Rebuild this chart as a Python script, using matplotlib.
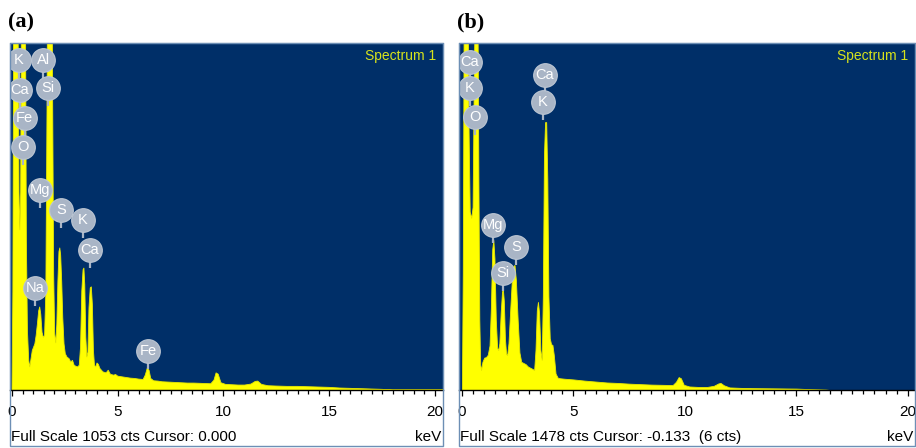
import matplotlib.pyplot as plt
import matplotlib.transforms as mtransforms
from matplotlib.patches import Rectangle
from matplotlib.ticker import MultipleLocator
import numpy as np

plt.rcParams['font.family'] = ['Liberation Sans', 'DejaVu Sans']

fig = plt.figure(figsize=(9.16, 4.48), dpi=100)

BG = '#002f68'
YEL = '#ffff00'
LBL = '#a9b5c6'

# Spectrum (a): energy / keV and counts
A_keV = [0.00, 0.04, 0.08, 0.12, 0.24, 0.29, 0.33, 0.37, 0.41, 0.45, 0.49, 0.60, 0.64, 0.68, 0.73, 0.79,
         0.84, 0.90, 0.96, 1.02, 1.08, 1.14, 1.20, 1.26, 1.31, 1.36, 1.42, 1.48, 1.54, 1.60, 1.66, 1.70,
         1.88, 1.92, 1.97, 2.02, 2.07, 2.12, 2.17, 2.22, 2.26, 2.30, 2.35, 2.40, 2.46, 2.52, 2.60, 2.70,
         2.78, 2.86, 2.94, 3.02, 3.10, 3.18, 3.24, 3.30, 3.36, 3.40, 3.44, 3.49, 3.54, 3.59, 3.64, 3.70,
         3.75, 3.80, 3.85, 3.90, 3.96, 4.02, 4.08, 4.16, 4.30, 4.45, 4.55, 4.65, 4.80, 4.90, 5.00, 5.20,
         5.40, 5.60, 5.80, 6.00, 6.20, 6.30, 6.40, 6.48, 6.56, 6.70, 6.90, 7.10, 7.40, 7.70, 8.00, 8.30,
         8.60, 9.00, 9.40, 9.55, 9.65, 9.75, 9.88, 10.10, 10.40, 10.70, 11.00, 11.30, 11.50, 11.62, 11.80,
         12.10, 12.50, 13.00, 13.50, 14.00, 14.50, 15.00, 15.50, 16.00, 16.50, 17.00, 17.50, 18.00, 20.40]
A_cts = [0, 300, 1200, 1500, 1500, 1100, 600, 486, 600, 1200, 1500, 1500, 1100, 450, 180, 90,
         70, 95, 120, 130, 140, 165, 200, 240, 252, 230, 175, 160, 165, 300, 900, 1500,
         1500, 900, 350, 170, 143, 200, 330, 420, 431, 410, 330, 220, 140, 110, 100, 95,
         85, 90, 75, 72, 70, 75, 130, 300, 365, 370, 320, 160, 100, 115, 250, 310,
         313, 260, 120, 75, 70, 82, 78, 65, 55, 52, 60, 48, 45, 47, 42, 40,
         38, 36, 35, 33, 32, 45, 67, 60, 35, 28, 27, 25, 24, 23, 22, 21,
         21, 20, 19, 30, 52, 48, 22, 17, 16, 15, 15, 18, 26, 27, 17,
         13, 12, 11, 11, 10, 9, 8, 6, 5, 4, 3, 2, 0, 0]

# Spectrum (b)
B_keV = [0.00, 0.04, 0.08, 0.26, 0.30, 0.35, 0.42, 0.48, 0.53, 0.57, 0.70, 0.74, 0.78, 0.82, 0.86, 0.92,
         1.00, 1.08, 1.16, 1.24, 1.30, 1.36, 1.41, 1.46, 1.52, 1.58, 1.63, 1.68, 1.74, 1.80, 1.84, 1.88,
         1.93, 1.98, 2.03, 2.09, 2.16, 2.24, 2.32, 2.36, 2.42, 2.50, 2.58, 2.66, 2.76, 2.86, 2.96, 3.06,
         3.16, 3.24, 3.30, 3.36, 3.41, 3.46, 3.52, 3.58, 3.63, 3.68, 3.73, 3.78, 3.83, 3.88, 3.94, 4.00,
         4.06, 4.12, 4.20, 4.30, 4.40, 4.60, 5.00, 5.50, 6.00, 6.50, 7.00, 7.50, 8.00, 8.50, 9.00, 9.45,
         9.60, 9.72, 9.82, 9.95, 10.20, 10.60, 11.00, 11.30, 11.50, 11.60, 11.75, 12.00, 12.50, 13.00,
         14.00, 15.00, 15.50, 16.30, 16.50, 20.40]
B_cts = [0, 500, 1600, 1600, 1100, 760, 733, 780, 1300, 1600, 1600, 900, 300, 110, 85, 120,
         138, 140, 150, 190, 350, 600, 639, 560, 300, 180, 170, 200, 330, 420, 426, 380,
         220, 155, 149, 200, 330, 470, 530, 532, 470, 300, 160, 120, 115, 110, 100, 95,
         90, 85, 170, 340, 375, 330, 170, 128, 400, 1000, 1141, 1141, 900, 400, 220, 195,
         192, 150, 70, 52, 50, 48, 45, 40, 36, 32, 30, 27, 25, 23, 22, 21,
         35, 55, 50, 22, 15, 13, 13, 18, 28, 30, 20, 11, 9, 8,
         7, 6, 4, 2, 0, 0]

# Element labels: name, keV, height in counts
A_lab = ['K', 'Ca', 'Fe', 'O', 'Al', 'Si', 'Mg', 'S', 'K', 'Ca', 'Na', 'Fe']
A_lab_keV = [0.33, 0.36, 0.60, 0.52, 1.47, 1.70, 1.31, 2.32, 3.36, 3.67, 1.07, 6.44]
A_lab_cts = [1001, 910, 825, 737, 1001, 916, 607, 546, 516, 425, 310, 119]

B_lab = ['Ca', 'K', 'O', 'Ca', 'K', 'Mg', 'S', 'Si']
B_lab_keV = [0.35, 0.35, 0.57, 3.71, 3.63, 1.39, 2.44, 1.84]
B_lab_cts = [1398, 1285, 1164, 1342, 1228, 703, 610, 497]

FullScale = [1053, 1478]
Footer = ['Full Scale 1053 cts Cursor: 0.000', 'Full Scale 1478 cts Cursor: -0.133  (6 cts)']
Titles = ['(a)', '(b)']


def Panel(px0, px1, keV, cts, lab, lab_keV, lab_cts, fs, footer, title, xlim):
    W, H = 916, 448
    ax = fig.add_axes([px0 / W, (H - 390) / H, (px1 - px0) / W, 347 / H])
    ax.set_facecolor(BG)
    ax.fill_between(keV, 0, cts, color=YEL, lw=0.6, edgecolor='#e8e800', zorder=2)
    ax.set_xlim(*xlim)
    ax.set_ylim(0, fs)
    ax.set_yticks([])
    ax.xaxis.set_major_locator(MultipleLocator(5))
    ax.xaxis.set_minor_locator(MultipleLocator(0.5))
    ax.tick_params(axis='x', which='major', direction='out', length=4.5, width=0.9,
                   pad=6, labelsize=11, color='black')
    ax.tick_params(axis='x', which='minor', direction='out', length=3, width=0.9, color='black')
    for s in ['top', 'left', 'right']:
        ax.spines[s].set_color('#6d8fb5')
        ax.spines[s].set_linewidth(0.8)
    ax.spines['bottom'].set_color('black')
    ax.spines['bottom'].set_linewidth(1.0)
    # element markers
    ax.scatter(lab_keV, lab_cts, s=290, color=LBL, edgecolor='#bcc6d3', lw=0.8, zorder=4)
    pin = mtransforms.offset_copy(ax.transData, fig=fig, x=0, y=-15, units='dots')
    ax.plot(lab_keV, lab_cts, ls='none', marker='|', ms=5, mew=1.6, color=LBL, transform=pin, zorder=3)
    for n, x, y in zip(lab, lab_keV, lab_cts):
        ax.text(x, y, n, color='white', fontsize=10.5, ha='center', va='center', zorder=5, clip_on=True)
    ax.text(0.984, 0.962, 'Spectrum 1', color='#d6e21c', fontsize=10, ha='right', va='center',
            transform=ax.transAxes)
    # frame and texts below
    fig.patches.append(Rectangle((px0 / W, 2 / H), (px1 - px0) / W, 403 / H, fill=False,
                                 edgecolor='#6d8fb5', lw=1.0, transform=fig.transFigure, zorder=0))
    fig.text((px0 + 1) / W, 1 - 437 / H, footer, fontsize=11, ha='left', va='center')
    fig.text((px1 - 2) / W, 1 - 437 / H, 'keV', fontsize=11, ha='right', va='center')
    fig.text((px0 - 2) / W, 1 - 22 / H, title, fontsize=16, fontweight='bold',
             family='Liberation Serif', ha='left', va='center')
    return ax


Panel(10, 443, A_keV, A_cts, A_lab, A_lab_keV, A_lab_cts, FullScale[0], Footer[0], Titles[0], (-0.095, 20.38))
Panel(459, 915, B_keV, B_cts, B_lab, B_lab_keV, B_lab_cts, FullScale[1], Footer[1], Titles[1], (-0.13, 20.32))

fig.savefig('out.png', dpi=100)
